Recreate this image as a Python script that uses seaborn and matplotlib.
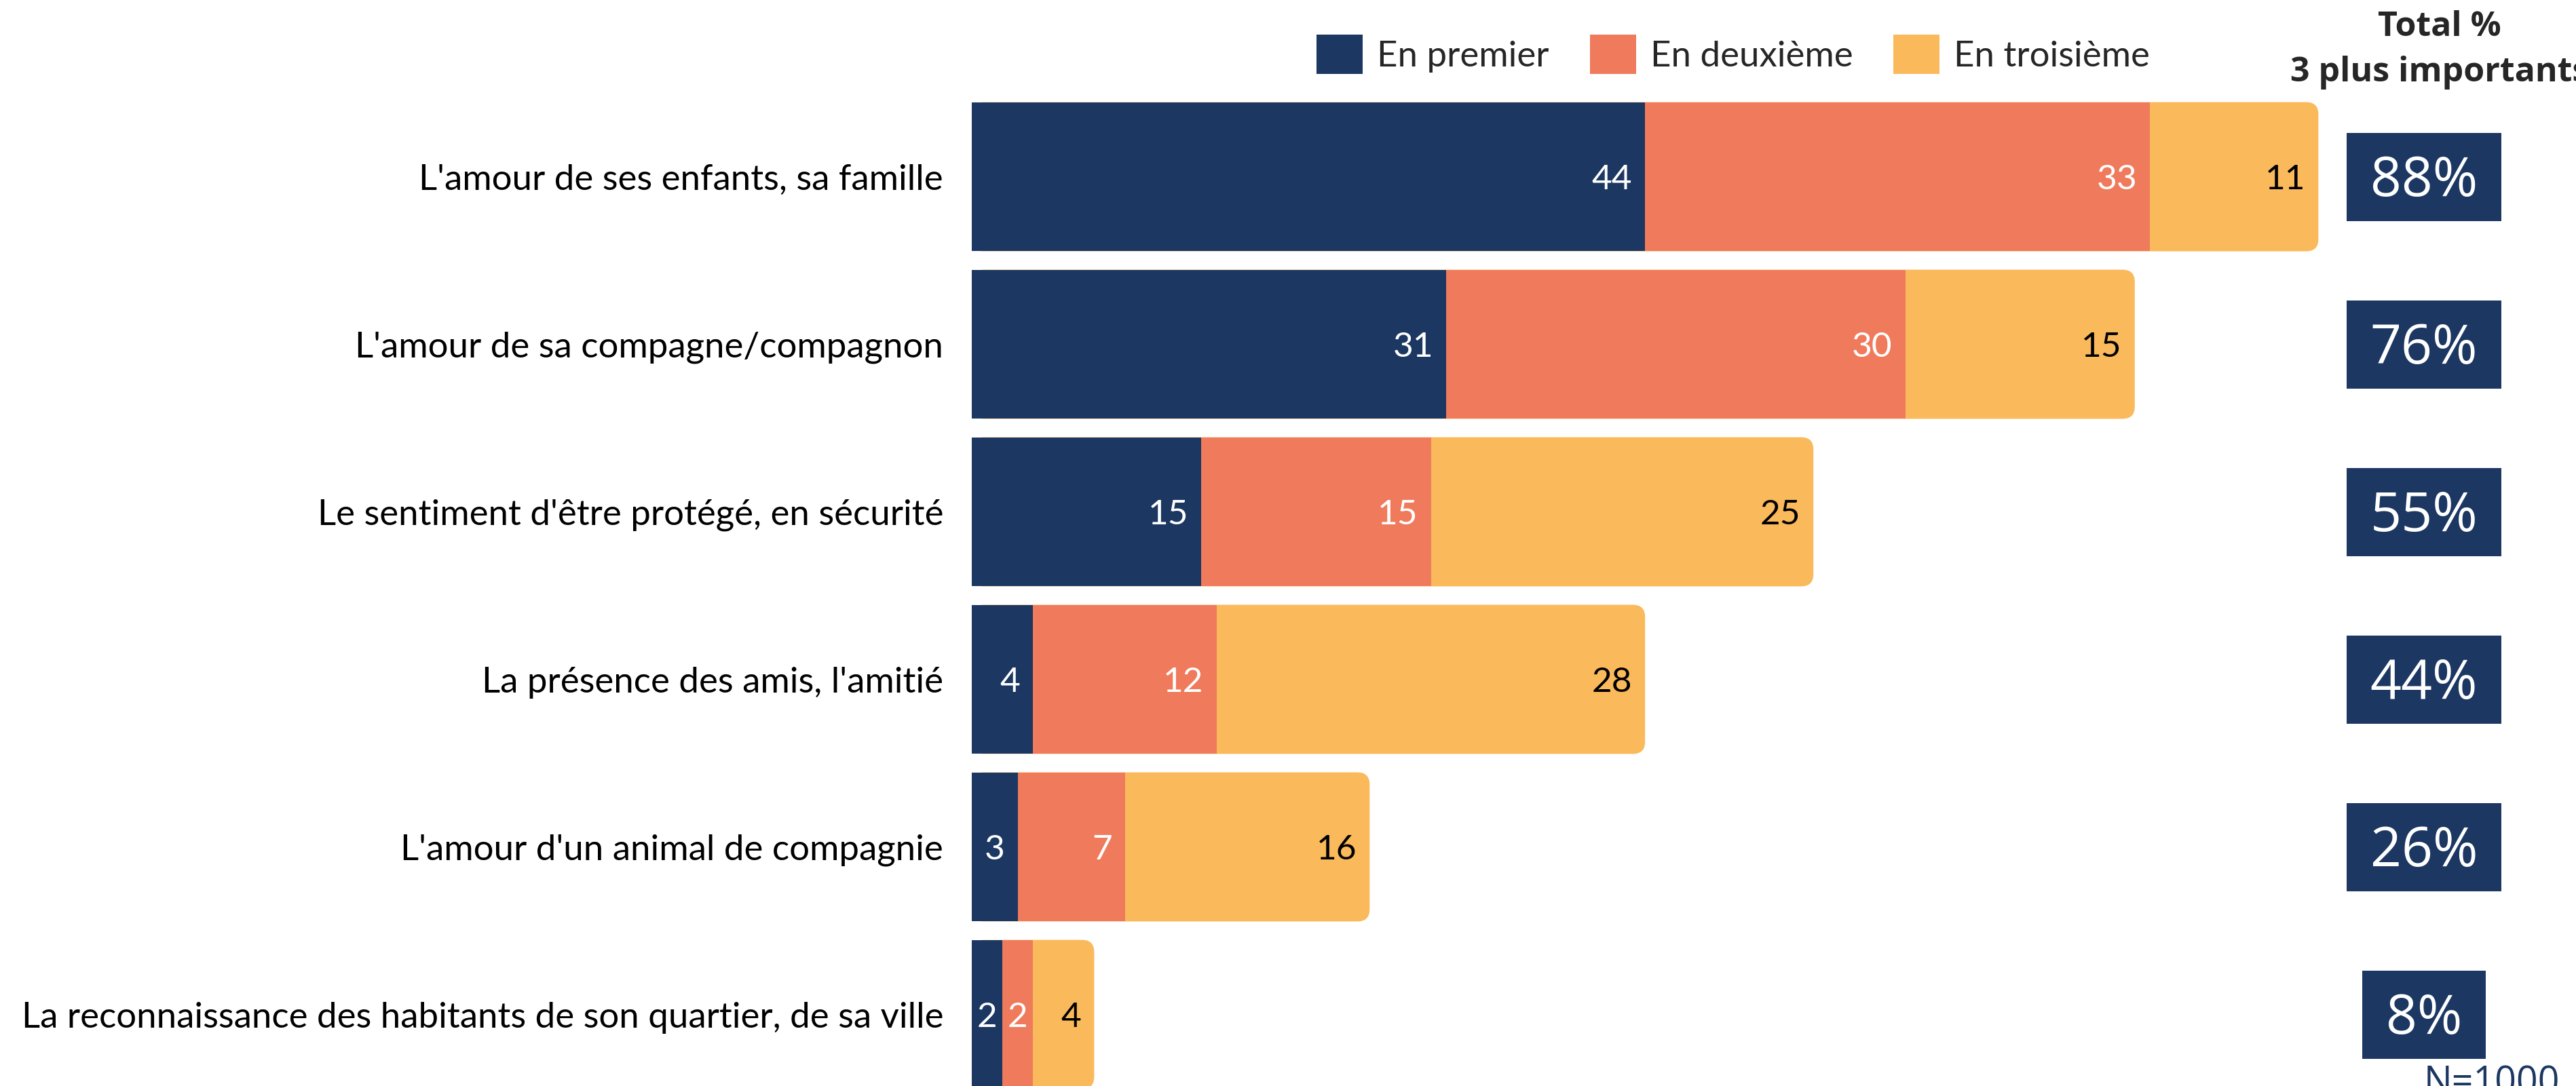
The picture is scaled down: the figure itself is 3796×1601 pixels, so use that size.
import pandas as pd
import matplotlib.pyplot as plt
import seaborn as sns
from matplotlib.patches import FancyBboxPatch, Rectangle, Patch
from matplotlib.transforms import IdentityTransform, blended_transform_factory

# donnees
categories = [
    "L'amour de ses enfants, sa famille",
    "L'amour de sa compagne/compagnon",
    "Le sentiment d'être protégé, en sécurité",
    "La présence des amis, l'amitié",
    "L'amour d'un animal de compagnie",
    "La reconnaissance des habitants de son quartier, de sa ville",
]
en_premier = [44, 31, 15, 4, 3, 2]
en_deuxieme = [33, 30, 15, 12, 7, 2]
en_troisieme = [11, 15, 25, 28, 16, 4]
totaux = [88, 76, 55, 44, 26, 8]
noms_legende = ['En premier', 'En deuxième', 'En troisième']
titre_total = ['Total %', '3 plus importants']
note_base = 'N=1000'

# couleurs
bleu_nuit = '#1B3762'
corail = '#F07A5C'
jaune = '#FAB95B'

# geometrie (pixels)
W, H, DPI = 3796, 1601, 100
px_x = 22.55      # pixels par point de %
px_y = 247        # pixels entre deux lignes
x0_px = 1432
ligne0_px = 260.5

sns.set_theme(style='white')
plt.rcParams['font.family'] = ['Lato', 'DejaVu Sans']

df = pd.DataFrame({'categorie': categories, 'premier': en_premier,
                   'deuxieme': en_deuxieme, 'troisieme': en_troisieme})
df['cum2'] = df['premier'] + df['deuxieme']
df['cum3'] = df['cum2'] + df['troisieme']

fig = plt.figure(figsize=(W / DPI, H / DPI), dpi=DPI)
ax = fig.add_axes([x0_px / W, 0, 1 - x0_px / W, 1])

# barres empilees : total d'abord (jaune arrondi), puis corail, puis bleu
sns.barplot(data=df, x='cum3', y='categorie', color=jaune, saturation=1,
            width=0.89, orient='h', errorbar=None, linewidth=0, ax=ax)
rayon = 18 / px_x
for p in list(ax.patches):
    x, y = p.get_xy()
    w, h = p.get_width(), p.get_height()
    p.remove()
    ax.add_patch(FancyBboxPatch((x, y), w, h, boxstyle=f'round,pad=0,rounding_size={rayon}',
                                mutation_aspect=px_x / px_y, facecolor=jaune,
                                edgecolor='none', linewidth=0, zorder=0.9))
sns.barplot(data=df, x='cum2', y='categorie', color=corail, saturation=1,
            width=0.89, orient='h', errorbar=None, linewidth=0, ax=ax)
sns.barplot(data=df, x='premier', y='categorie', color=bleu_nuit, saturation=1,
            width=0.89, orient='h', errorbar=None, linewidth=0, ax=ax)

# etiquettes dans les barres
taille = 38
taille_val = 37
cap = 0.717 * taille_val
marge = 19 * 72 / DPI
for i, r in df.iterrows():
    segments = [(0, r['premier'], r['premier'], 'white'),
                (r['premier'], r['cum2'], r['deuxieme'], 'white'),
                (r['cum2'], r['cum3'], r['troisieme'], 'black')]
    for debut, fin, val, coul in segments:
        if val * px_x < 60:
            ax.annotate(f'{val}', xy=((debut + fin) / 2, i), xytext=(0, -cap / 2),
                        textcoords='offset points', ha='center', va='baseline',
                        color=coul, fontsize=taille_val, zorder=3)
        else:
            ax.annotate(f'{val}', xy=(fin, i), xytext=(-marge, -cap / 2),
                        textcoords='offset points', ha='right', va='baseline',
                        color=coul, fontsize=taille_val, zorder=3)

# totaux dans des cadres bleus
trans = blended_transform_factory(ax.transAxes, ax.transData)
x_total = (3572 - x0_px) / (W - x0_px)
taille_tot = 58
textes_tot = []
for i, t in enumerate(totaux):
    txt = ax.annotate(f'{t}%', xy=(x_total, i), xycoords=trans,
                      xytext=(0, -0.714 * taille_tot / 2), textcoords='offset points',
                      ha='center', va='baseline', color='white', fontsize=taille_tot,
                      family=['Open Sans', 'DejaVu Sans'], zorder=5)
    textes_tot.append(txt)

ax.set_xlim(0, (W - x0_px) / px_x)
ax.set_ylim((H - ligne0_px) / px_y, -ligne0_px / px_y)
ax.set_autoscale_on(False)
ax.set_xticks([])
ax.set_xlabel('')
ax.set_ylabel('')
ax.tick_params(axis='y', length=0, pad=42 * 72 / DPI, labelsize=taille, labelcolor='black')
sns.despine(ax=ax, left=True, bottom=True)

fig.canvas.draw()
for i, txt in enumerate(textes_tot):
    bb = txt.get_window_extent()
    yc = ax.transData.transform((0, i))[1]
    ax.add_patch(Rectangle((bb.x0 - 35, yc - 65), bb.width + 70, 130,
                           transform=IdentityTransform(), facecolor=bleu_nuit,
                           edgecolor='none', zorder=4))

# legende
poignees = [Patch(facecolor=c, edgecolor='none') for c in [bleu_nuit, corail, jaune]]
em = taille * DPI / 72
fig.legend(poignees, noms_legende, loc='center left',
           bbox_to_anchor=(1940 / W, 1 - 80 / H), ncol=3, frameon=False,
           fontsize=taille, handlelength=68 / em, handleheight=69 / em,
           handletextpad=21 / em, columnspacing=60 / em, borderpad=0, borderaxespad=0)

# en-tete de la colonne total
fig.text(3595 / W, 1 - 53 / H, titre_total[0], ha='center', va='baseline',
         fontsize=36, fontweight='bold', family=['Open Sans', 'DejaVu Sans'])
fig.text(3595 / W, 1 - 120 / H, titre_total[1], ha='center', va='baseline',
         fontsize=36, fontweight='bold', family=['Open Sans', 'DejaVu Sans'])

fig.text(3572 / W, 1 - 1612 / H, note_base, ha='left', va='baseline',
         fontsize=40, color=bleu_nuit, family=['Open Sans', 'DejaVu Sans'])

fig.savefig('out.png', dpi=DPI, facecolor='white')
